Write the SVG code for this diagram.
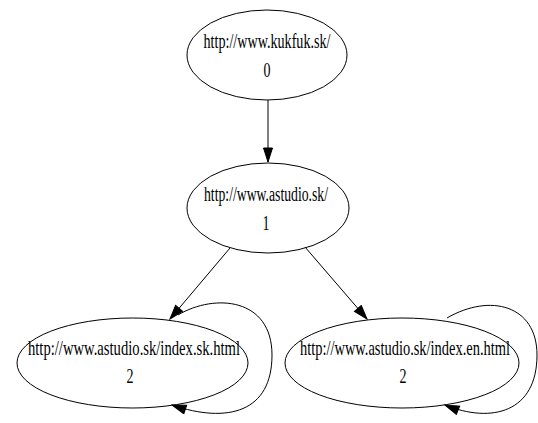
<svg xmlns="http://www.w3.org/2000/svg" width="538" height="423" viewBox="0 0 538 423">
<style>
.node ellipse{fill:none;stroke:#000;stroke-width:1}
.node text{font-family:"Liberation Serif","Times New Roman",serif;font-size:20px;fill:#000;text-anchor:middle}
.edge{fill:none;stroke:#000;stroke-width:1}
</style>
<defs>
<marker id="arr" markerUnits="userSpaceOnUse" markerWidth="16" markerHeight="12" refX="15" refY="5" orient="auto">
<path d="M1,0.5 L15,5 L1,9.5 Z" fill="#000" stroke="#000" stroke-width="1"/>
</marker>
</defs>
<rect width="538" height="423" fill="#fff"/>
<g id="connectors">
<path class="edge" d="M268,100 L268,162" marker-end="url(#arr)"/>
<path class="edge" d="M230,248 L170,319" marker-end="url(#arr)"/>
<path class="edge" d="M305,247 L367,319" marker-end="url(#arr)"/>
<path class="edge" d="M178,315 C215,293 272,298 272,355 C272,412 228,424 172,405" marker-end="url(#arr)"/>
<path class="edge" d="M447,318 C490,293 537,305 537,355 C537,412 492,424 445,405" marker-end="url(#arr)"/>
</g>
<g id="node0" class="node">
<ellipse cx="267" cy="55" rx="80" ry="45"/>
<text x="267" y="48" textLength="127" lengthAdjust="spacingAndGlyphs">http://www.kukfuk.sk/</text>
<text x="267" y="77" textLength="7" lengthAdjust="spacingAndGlyphs">0</text>
</g>
<g id="node1" class="node">
<ellipse cx="268" cy="208" rx="81" ry="45"/>
<text x="266" y="201" textLength="124" lengthAdjust="spacingAndGlyphs">http://www.astudio.sk/</text>
<text x="266" y="230" textLength="7" lengthAdjust="spacingAndGlyphs">1</text>
</g>
<g id="node2a" class="node">
<ellipse cx="132.5" cy="363" rx="115.5" ry="45"/>
<text transform="translate(134,355) scale(0.7,1)" x="0" y="0" textLength="303" lengthAdjust="spacingAndGlyphs">http://www.astudio.sk/index.sk.html</text>
<text x="130" y="383" textLength="7" lengthAdjust="spacingAndGlyphs">2</text>
</g>
<g id="node2b" class="node">
<ellipse cx="402" cy="363" rx="117" ry="45"/>
<text transform="translate(405,355) scale(0.7,1)" x="0" y="0" textLength="300" lengthAdjust="spacingAndGlyphs">http://www.astudio.sk/index.en.html</text>
<text x="403" y="383" textLength="7" lengthAdjust="spacingAndGlyphs">2</text>
</g>
</svg>
